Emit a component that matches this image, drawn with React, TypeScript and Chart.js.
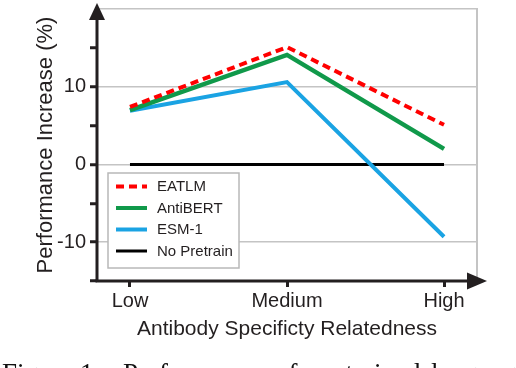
import React, { useEffect, useRef } from 'react';
import { Chart, registerables } from 'chart.js';

Chart.register(...registerables);

// ---- data ----
const categories = ['Low', 'Medium', 'High'];
const seriesNames = ['EATLM', 'AntiBERT', 'ESM-1', 'No Pretrain'];
const eatlm = [7.4, 15.1, 5.1];
const antibert = [7.0, 14.1, 2.0];
const esm1 = [6.9, 10.6, -9.3];
const noPretrain = [0, 0, 0];
const yTickValues = [-15, -10, -5, 0, 5, 10, 15, 20];
const yLabelValues = [-10, 0, 10];
const yGridValues = [-10, 0, 10, 20];
const xTitle = 'Antibody Specificty Relatedness';
const yTitle = 'Performance Increase (%)';
const captionWords = ['Figure', '1:', 'Performance', 'of', 'pre-trained', 'language'];

// ---- layout / style ----
const captionX = [2, 80, 123, 275, 302, 431];
const FONT = '"Liberation Sans", Arial, sans-serif';
const TEXT = '#231f20';
const GRID = '#c4c4c4';

const colors = ['#ff0000', '#10994a', '#1aa3e3', '#000000'];
const widths = [4, 4.5, 4, 3];
const dashes: number[][] = [[8, 5], [], [], []];

const toPts = (arr: number[]) => arr.map((v, i) => ({ x: i, y: v }));

const decorPlugin = {
  id: 'decor',
  afterDatasetsDraw(chart: any) {
    const { ctx, chartArea: a } = chart;
    ctx.save();
    // right gray border of plot box
    ctx.strokeStyle = GRID;
    ctx.lineWidth = 2;
    ctx.beginPath();
    ctx.moveTo(a.right, a.top - 1);
    ctx.lineTo(a.right, a.bottom);
    ctx.stroke();

    // legend box
    const lx = a.left + 11;
    const ly = a.top + 164;
    const lw = 131;
    const lh = 95;
    ctx.fillStyle = '#ffffff';
    ctx.fillRect(lx, ly, lw, lh);
    ctx.strokeStyle = '#b8b8b8';
    ctx.lineWidth = 1.5;
    ctx.strokeRect(lx, ly, lw, lh);
    ctx.font = `15px ${FONT}`;
    ctx.textBaseline = 'middle';
    ctx.textAlign = 'left';
    chart.data.datasets.forEach((ds: any, i: number) => {
      const cy = ly + 13.5 + i * 21.5;
      ctx.strokeStyle = ds.borderColor;
      ctx.lineWidth = Math.min(ds.borderWidth, 4);
      ctx.setLineDash(ds.borderDash || []);
      ctx.beginPath();
      ctx.moveTo(lx + 8, cy);
      ctx.lineTo(lx + 39, cy);
      ctx.stroke();
      ctx.setLineDash([]);
      ctx.fillStyle = TEXT;
      ctx.fillText(ds.label, lx + 49, cy + 0.5);
    });

    // axes with arrows
    ctx.strokeStyle = TEXT;
    ctx.fillStyle = TEXT;
    ctx.lineWidth = 3;
    ctx.beginPath();
    ctx.moveTo(a.left, a.bottom + 1);
    ctx.lineTo(a.left, a.top + 6);
    ctx.stroke();
    ctx.beginPath();
    ctx.moveTo(a.left - 1.5, a.bottom);
    ctx.lineTo(a.right - 8, a.bottom);
    ctx.stroke();
    // y arrow head
    ctx.beginPath();
    ctx.moveTo(a.left, a.top - 6);
    ctx.lineTo(a.left - 8, a.top + 11);
    ctx.lineTo(a.left + 8, a.top + 11);
    ctx.closePath();
    ctx.fill();
    // x arrow head
    ctx.beginPath();
    ctx.moveTo(a.right + 10, a.bottom);
    ctx.lineTo(a.right - 10, a.bottom - 8.5);
    ctx.lineTo(a.right - 10, a.bottom + 8.5);
    ctx.closePath();
    ctx.fill();
    ctx.restore();
  },
};

export default function App() {
  const ref = useRef<HTMLCanvasElement | null>(null);

  useEffect(() => {
    if (!ref.current) return;
    const series = [eatlm, antibert, esm1, noPretrain];
    const chart = new Chart(ref.current, {
      type: 'line',
      data: {
        datasets: series.map((s, i) => ({
          label: seriesNames[i],
          data: toPts(s),
          borderColor: colors[i],
          backgroundColor: colors[i],
          borderWidth: widths[i],
          borderDash: dashes[i],
          pointRadius: 0,
          tension: 0,
          fill: false,
        })),
      },
      options: {
        animation: false,
        responsive: false,
        devicePixelRatio: 1,
        layout: { padding: { left: 33, top: 9, right: 39, bottom: 23 } },
        plugins: { legend: { display: false }, tooltip: { enabled: false } },
        scales: {
          x: {
            type: 'linear',
            min: -0.21,
            max: 2.21,
            border: { display: false },
            afterBuildTicks: (s: any) => {
              s.ticks = categories.map((_, i) => ({ value: i }));
            },
            afterFit: (s: any) => {
              s.height = 64;
              s.paddingLeft = 0;
              s.paddingRight = 0;
            },
            grid: {
              drawOnChartArea: false,
              color: 'rgba(0,0,0,0)',
              tickColor: TEXT,
              tickLength: 6,
              tickWidth: 3,
            },
            ticks: {
              autoSkip: false,
              maxRotation: 0,
              padding: 2,
              color: TEXT,
              font: { family: FONT, size: 20 },
              callback: (v: any) => categories[Math.round(Number(v))] ?? '',
            },
            title: {
              display: true,
              text: xTitle,
              color: TEXT,
              font: { family: FONT, size: 21 },
              padding: { top: 0, bottom: 3 },
            },
          },
          y: {
            type: 'linear',
            min: -15,
            max: 20,
            border: { display: false },
            afterBuildTicks: (s: any) => {
              s.ticks = yTickValues.map((v) => ({ value: v }));
            },
            afterFit: (s: any) => {
              s.width = 64;
              s.paddingTop = 0;
              s.paddingBottom = 0;
            },
            grid: {
              color: (c: any) =>
                c.tick && yGridValues.includes(c.tick.value) ? GRID : 'rgba(0,0,0,0)',
              lineWidth: 1.5,
              tickColor: (c: any) =>
                c.tick && c.tick.value === 20 ? 'rgba(0,0,0,0)' : TEXT,
              tickLength: 7,
              tickWidth: 3,
            },
            ticks: {
              padding: 4,
              color: TEXT,
              font: { family: FONT, size: 20 },
              callback: (v: any) => (yLabelValues.includes(Number(v)) ? String(v) : ''),
            },
            title: {
              display: true,
              text: yTitle,
              color: TEXT,
              font: { family: FONT, size: 22 },
              padding: { top: 0, bottom: 0 },
            },
          },
        },
      },
      plugins: [decorPlugin],
    } as any);
    return () => chart.destroy();
  }, []);

  return (
    <div
      style={{
        position: 'fixed',
        left: 0,
        top: 0,
        width: 516,
        height: 368,
        overflow: 'hidden',
        background: '#ffffff',
      }}
    >
      <canvas
        ref={ref}
        width={516}
        height={368}
        style={{ position: 'absolute', left: 0, top: 0, width: 516, height: 368 }}
      />
      {captionWords.map((w, i) => (
        <span
          key={i}
          style={{
            position: 'absolute',
            left: captionX[i],
            top: 360,
            font: '27px "Liberation Serif", "Times New Roman", serif',
            lineHeight: '27px',
            whiteSpace: 'nowrap',
            color: '#111',
          }}
        >
          {w}
        </span>
      ))}
    </div>
  );
}
